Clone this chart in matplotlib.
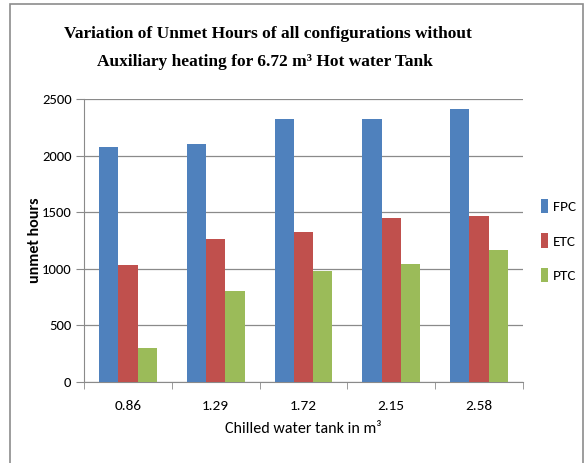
import numpy as np
import matplotlib.pyplot as plt
from matplotlib.patches import Rectangle

# chilled water tank volumes (m3) and unmet hours per collector type
tank_sizes = ['0.86', '1.29', '1.72', '2.15', '2.58']
fpc = [2080, 2100, 2320, 2320, 2415]
etc = [1030, 1260, 1325, 1450, 1470]
ptc = [300, 800, 980, 1040, 1165]

series = {'FPC': (fpc, '#4F81BD'), 'ETC': (etc, '#C0504D'), 'PTC': (ptc, '#9BBB59')}

plt.rcParams['font.family'] = ['Carlito', 'DejaVu Sans']
title_font = ['Liberation Serif', 'DejaVu Serif']

fig = plt.figure(figsize=(5.88, 4.63), dpi=100)
ax = fig.add_axes([84 / 588, 1 - 382 / 463, 439 / 588, 283 / 463])

# outer chart border
fig.patches.append(Rectangle((10 / 588, -0.05), 573 / 588, 1 - 4 / 463 + 0.05,
                             transform=fig.transFigure, fill=False,
                             edgecolor='#8c8c8c', linewidth=1.2))

x = np.arange(len(tank_sizes))
w = 0.22
for i, (name, (vals, col)) in enumerate(series.items()):
    ax.bar(x + (i - 1) * w, vals, width=w, color=col, label=name, zorder=3)

ax.set_xlim(-0.5, len(tank_sizes) - 0.5)
ax.set_ylim(0, 2500)
ax.set_yticks(range(0, 2501, 500))
ax.yaxis.grid(True, color='#8a8a8a', linewidth=0.9, zorder=0)

ax.set_xticks(x)
ax.set_xticklabels(tank_sizes, fontsize=11)
ax.set_xticks(np.arange(-0.5, len(tank_sizes)), minor=True)
ax.tick_params(axis='x', which='major', length=0, pad=13)
ax.tick_params(axis='x', which='minor', length=5, color='#8a8a8a')
ax.tick_params(axis='y', length=6, color='#8a8a8a', labelsize=10.5, pad=3)

for side in ['top', 'right']:
    ax.spines[side].set_visible(False)
for side in ['left', 'bottom']:
    ax.spines[side].set_color('#8a8a8a')

ax.set_ylabel('unmet hours', fontsize=11.5, fontweight='bold')
ax.yaxis.set_label_coords(-0.095, 0.5)
ax.set_xlabel('Chilled water tank in m³', fontsize=11.5, labelpad=7)

fig.text(268 / 588, 1 - 34 / 463,
         'Variation of Unmet Hours of all configurations without',
         ha='center', va='center', fontsize=12.5, fontweight='bold',
         family=title_font)
fig.text(265 / 588, 1 - 62 / 463,
         'Auxiliary heating for 6.72 m³ Hot water Tank',
         ha='center', va='center', fontsize=12.5, fontweight='bold',
         family=title_font)

ax.legend(loc='center left', bbox_to_anchor=(1.01, 0.5), frameon=False,
          fontsize=11, handlelength=0.45, handleheight=1.1, handletextpad=0.3,
          labelspacing=1.3)

fig.savefig('out.png', dpi=100)
